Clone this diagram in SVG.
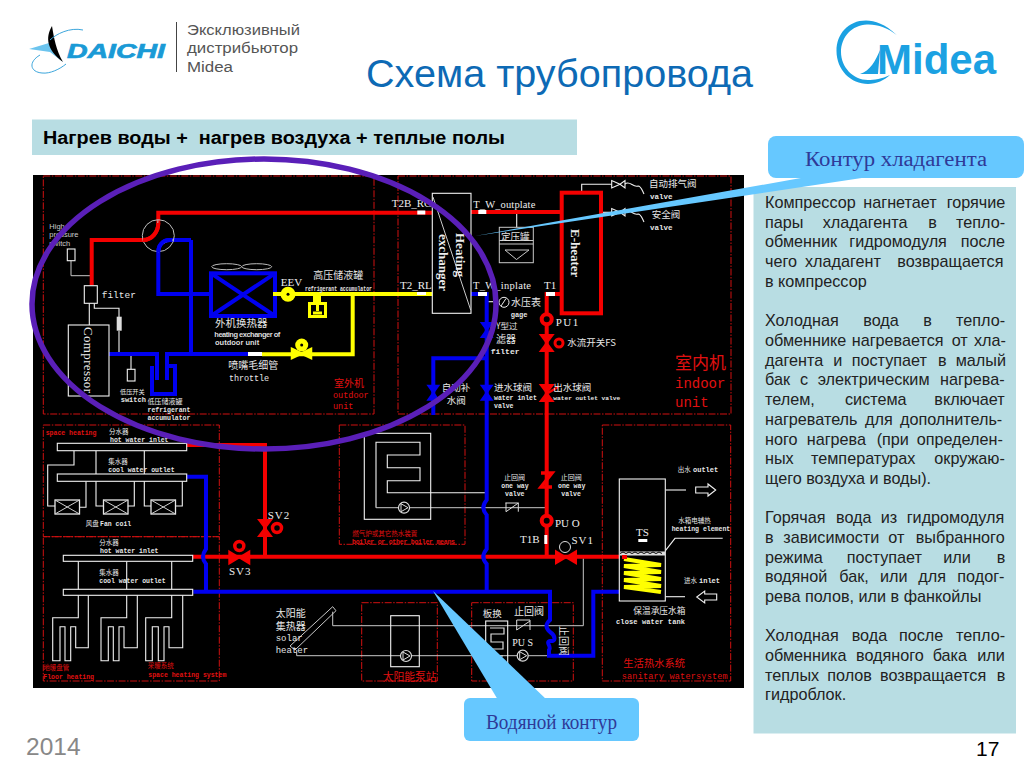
<svg xmlns="http://www.w3.org/2000/svg" width="1024" height="768" viewBox="0 0 1024 768">
<style>
text{font-family:"Liberation Sans",sans-serif}
.cn{font-family:"Noto Sans CJK SC",sans-serif;fill:#e6e6e6}
.m{font-family:"Liberation Mono",monospace;fill:#e6e6e6}
.mb{font-family:"Liberation Mono",monospace;fill:#e6e6e6;font-weight:bold}
.s{font-family:"Liberation Serif",serif;fill:#eee}
.rc{font-family:"Noto Sans CJK SC",sans-serif;fill:#e01010}
.rm{font-family:"Liberation Mono",monospace;fill:#e01010}
.box{fill:none;stroke:#d01010;stroke-width:1;stroke-dasharray:7 1.5 1.5 1.5}
.g{fill:none;stroke:#c8c8c8;stroke-width:1}
.w{fill:none;stroke:#f2f2f2;stroke-width:1.1}
.wf{fill:#000;stroke:#f2f2f2;stroke-width:1.1}
.hot{fill:none;stroke:#f50000;stroke-width:4}
.cold{fill:none;stroke:#0000f0;stroke-width:4}
.ref{fill:none;stroke:#ffff00;stroke-width:4}
.tick{fill:#fff}
.p text{font-size:16.2px;fill:#222}
.call{fill:#66c8ff}
.ct{font-family:"Liberation Serif",serif;font-size:20px;fill:#2f3a98}
</style>
<defs>
<polygon id="vh" points="-10,-6 10,6 10,-6 -10,6" fill="#f50000" stroke="#f50000" stroke-width="2"/>
<polygon id="vc" points="-5,-7 5,7 -5,7 5,-7" fill="#0000f0" stroke="#0000f0" stroke-width="2"/>
<polygon id="vr" points="-6,-8 6,8 -6,8 6,-8" fill="#f50000" stroke="#f50000" stroke-width="2"/>
<g id="pump"><circle r="5.5" fill="#000" stroke="#ddd" stroke-width="1.2"/><polygon points="-3,-4 4,0 -3,4" fill="none" stroke="#ddd" stroke-width="1"/></g>
<g id="fc"><rect x="0" y="0" width="24.5" height="14" fill="none" stroke="#e8e8e8" stroke-width="1.3"/><path d="M0,0L24.5,14M24.5,0L0,14" stroke="#d0d0d0" fill="none"/></g>
</defs>
<rect width="1024" height="768" fill="#fff"/>

<g id="logo-daichi">
<path d="M29,49L49,43L52,27C50,40 52,52 63,62L50,52Z" fill="#6cc4ee"/>
<path d="M52,26C45,38 47,50 63,62C56,50 54,38 52,26Z" fill="#000"/>
<path d="M83,30C70,27 56,34 50,40M40,55C28,62 30,72 42,73C50,74 60,69 66,64" fill="none" stroke="#3ca6dc" stroke-width="1"/>
<text x="67" y="58" font-size="21" font-weight="bold" font-style="italic" fill="#1a9ad6" stroke="#1a9ad6" stroke-width="0.7" textLength="98" lengthAdjust="spacingAndGlyphs">DAICHI</text>
<line x1="176.5" y1="22" x2="176.5" y2="72" stroke="#444" stroke-width="1"/>
<text x="187" y="35" font-size="15.5" fill="#555" textLength="113" lengthAdjust="spacingAndGlyphs">Эксклюзивный</text>
<text x="187" y="53" font-size="15.5" fill="#555" textLength="111" lengthAdjust="spacingAndGlyphs">дистрибьютор</text>
<text x="187" y="71.5" font-size="15.5" fill="#555" textLength="46" lengthAdjust="spacingAndGlyphs">Midea</text>
</g>
<g id="logo-midea">
<path d="M896.7,35C885,24 875,20.5 866,20.5C848,20.5 836.5,34 836.5,51C836.5,70 851,84 868,84C876,84 885,80 890,75C882,79 874,80 868,80C853,80 841,67 841,52C841,37 852,25 867,24.5C877,24 888,28 896.7,35Z" fill="#1ba1e2"/>
<path d="M860,74C870,71 876,60 880,50L878,74Z" fill="#1ba1e2"/>
<text x="877" y="74" font-size="43" font-weight="bold" fill="#1ba1e2" textLength="119" lengthAdjust="spacingAndGlyphs">Midea</text>
</g>
<text id="title" x="366" y="87" font-size="38" fill="#0d6ab5" textLength="387" lengthAdjust="spacingAndGlyphs">Схема трубопровода</text>
<g id="subtitle">
<rect x="32" y="119.5" width="545" height="35.5" fill="#b8dde3"/>
<text x="43" y="144" font-size="18" font-weight="bold" fill="#000" style="white-space:pre" textLength="462" lengthAdjust="spacingAndGlyphs">Нагрев воды +  нагрев воздуха + теплые полы</text>
</g>

<rect id="schema-bg" x="33" y="175" width="711" height="513" fill="#000"/>

<g id="zones">
<rect class="box" x="43.3" y="176" width="330.7" height="238"/>
<rect class="box" x="398" y="176" width="333" height="238"/>
<rect class="box" x="43.3" y="425" width="176" height="111.7"/>
<rect class="box" x="43.3" y="536.7" width="176" height="144.3"/>
<rect class="box" x="339.3" y="425" width="125.7" height="119.3"/>
<rect class="box" x="361.7" y="602.7" width="75.6" height="78.3"/>
<rect class="box" x="471.7" y="602.7" width="101.6" height="78.3"/>
<rect class="box" x="602.3" y="425" width="128.4" height="256"/>
</g>

<g id="connectors">
<polyline class="g" points="71,260.7 71,275.7 91.7,275.7"/>
<polyline class="w" points="89.3,303 89.3,325"/>
<polyline class="w" points="94.3,303.3 94.3,308.3 119,308.3 119,317"/>
<polyline class="w" points="119,331 119,354"/>
<polyline class="w" points="131,354 131,369.3"/>
<polyline class="w" points="516.7,213 516.7,227.3"/>
<polyline class="w" points="581.7,192.7 581.7,184.3 611.7,184.3"/>
<polyline class="w" points="601,212.3 611.7,212.3"/>
<path class="w" d="M625,184C630,180 633,188 638,186C641,186 642,190 644,194M625,212C630,208 633,216 638,214C641,214 642,218 644,222"/>
<polyline class="w" points="486,301.7 493,301.7"/>
<polyline class="w" points="74,450.7 74,465 47.7,465 47.7,506 55,506"/>
<polyline class="w" points="86,481.3 86,507.3 79.5,507.3"/>
<polyline class="w" points="96,450.7 96,506 103.3,506"/>
<polyline class="w" points="134.3,481.3 134.3,506 127.8,506"/>
<polyline class="w" points="144.3,450.7 144.3,506 151,506"/>
<polyline class="w" points="182.3,481.3 182.3,506 175.5,506"/>
<polyline class="w" points="78.3,561.3 78.3,617.7 52.7,617.7 52.7,660.7 60,660.7 60,626.7 65,626.7 65,660.7 70.7,660.7 70.7,626.7 75.7,626.7 75.7,647.7 88.3,647.7 88.3,595.3"/>
<polyline class="w" points="126.7,561.3 126.7,617.7 101,617.7 101,660.7 108.3,660.7 108.3,626.7 113.3,626.7 113.3,660.7 119,660.7 119,626.7 124,626.7 124,647.7 137.3,647.7 137.3,595.3"/>
<polyline class="w" points="171.7,561.3 171.7,617.7 145.7,617.7 145.7,660.7 152.3,660.7 152.3,626.7 158.3,626.7 158.3,660.7 164,660.7 164,626.7 169,626.7 169,647.7 182.7,647.7 182.7,595.3"/>
<polyline class="w" points="376,507.7 376,442.3 420,442.3 420,455 387.3,455 387.3,467.7 420,467.7 420,480.7 387.3,480.7 387.3,492.7 486,492.7"/>
<polyline class="g" points="376,507.7 546.7,507.7"/>
<polyline class="g" points="332.7,611.7 332.7,625.7 583.3,625.7 583.3,558.3"/>
<polyline class="g" points="296.7,650 296.7,655.7 550,655.7"/>
<polyline class="w" points="665.3,490 686,490"/>
<polyline class="w" points="665.3,596.7 685,596.7"/>
<polyline class="w" points="663.3,553.3 675,538.3 722.7,538.3"/>
<path class="hot" d="M91.7,285V240H143C152,240 158.3,232 158.3,223V212.7H432"/>
<path class="hot" d="M471,212H561.7"/>
<path class="hot" d="M561.7,294H546.7V556.7"/>
<path class="hot" d="M193,556.7H627"/>
<path class="hot" d="M186.7,445H265V556.7"/>
<path class="cold" d="M191,240H170C162,240 158.3,246 158.3,252V294H211"/>
<path class="cold" d="M191,240V354"/>
<path class="cold" d="M108.3,354H157V380M167,380V354H250"/>
<path class="cold" d="M152,366V394H175V366H168"/>
<rect class="cold" x="211" y="273.3" width="64" height="42.7"/>
<path class="cold" d="M211,273.3L275,316M275,273.3L211,316" stroke-width="3"/>
<path class="ref" d="M273,294H435"/>
<path class="ref" d="M352.7,294V354.3H262"/>
<path class="cold" d="M470.7,294H486.7V500Q480,507.7 486.7,515V549Q480,557 486.7,564V591.7"/>
<path class="cold" d="M486.7,358.3H433.3V415"/>
<path class="cold" d="M186.7,476.7H206V549Q200,557 206,564V591.7"/>
<path class="cold" d="M193.3,591.7H550V620Q543,626 550,632C556,636 556,642 550,641C545,642 552,647 549,650V655.7H593.3V591.7H650"/>
</g>

<g id="four-way">
<circle cx="158.3" cy="235.7" r="16" fill="none" stroke="#bdbdbd" stroke-width="1"/>
<path d="M144,240C150,240 158,232 158,220M173,240C167,240 158,246 158,252" fill="none" stroke="#bdbdbd" stroke-width="1"/>
<path d="M143,240C152,240 158.3,232 158.3,223" fill="none" stroke="#f50000" stroke-width="4"/>
<path d="M172,240H170C162,240 158.3,246 158.3,252" fill="none" stroke="#0000f0" stroke-width="4"/>
</g>
<g id="high-pressure-switch">
<rect class="w" x="67.3" y="249" width="7.7" height="11.7"/>
<text x="49.3" y="228.5" font-size="7.5" fill="#ccc">High</text><text x="49.3" y="237" font-size="7.5" fill="#ccc">pressure</text><text x="49.3" y="245.5" font-size="7.5" fill="#ccc">switch</text>
</g>
<g id="filter-out"><rect class="wf" x="84.3" y="285.7" width="13" height="17.6"/><rect x="116.7" y="316.7" width="5" height="14" fill="#ddd"/><text class="m" x="101.7" y="298.3" font-size="9.5">filter</text></g>
<g id="compressor"><rect class="wf" x="68.3" y="325" width="40.7" height="71" fill="none"/><text class="s" transform="translate(84,327) rotate(90)" font-size="13" textLength="66">Compressor</text></g>
<g id="low-switch"><rect class="wf" x="127.3" y="369.3" width="7.7" height="11.7"/><text class="cn" x="120" y="393.5" font-size="6.2">低压开关</text><text class="mb" x="120.7" y="401.7" font-size="7">switch</text></g>
<g id="low-acc"><text class="cn" x="147.5" y="403.5" font-size="7">低压储液罐</text><text class="mb" x="147.5" y="412" font-size="6.5">refrigerant</text><text class="mb" x="147.5" y="420" font-size="6.5">accumulator</text></g>
<g id="outdoor-exchanger">
<ellipse cx="226.7" cy="266.7" rx="15" ry="3" fill="none" stroke="#bbb"/><ellipse cx="256.7" cy="266.7" rx="15" ry="3" fill="none" stroke="#bbb"/>
<text class="cn" x="215" y="326.7" font-size="10.5">外机换热器</text>
<text x="214.3" y="336.7" font-size="7.5" fill="#ddd" textLength="66" font-weight="bold">heating exchanger of</text>
<text x="215" y="345" font-size="7.5" fill="#ddd" font-weight="bold">outdoor unit</text>
</g>
<g id="eev"><circle cx="288" cy="294.3" r="7.5" fill="#ffff00"/><circle cx="288" cy="294.3" r="1.5" fill="#000"/><text class="s" x="280.7" y="285.5" font-size="11">EEV</text></g>
<g id="hp-acc">
<path d="M308,302H313V296H321V302H327V318H308Z" fill="#ffff00"/><rect x="311" y="305" width="13" height="10" fill="#000"/><path d="M317.5,302V311M313,313H322" stroke="#ffff00" stroke-width="3" fill="none"/>
<text class="cn" x="313.3" y="279" font-size="10">高压储液罐</text>
<text class="mb" x="305" y="290.7" font-size="7" textLength="67" lengthAdjust="spacingAndGlyphs">refrigerant accumulator</text>
</g>
<g id="throttle">
<rect class="tick" x="248" y="352" width="14" height="4"/>
<circle cx="301.7" cy="345" r="6.5" fill="#ffff00"/><circle cx="301.7" cy="345" r="1.5" fill="#000"/><polygon points="292,349 311,358 311,349 292,358" fill="#ffff00" stroke="#ffff00" stroke-width="2.5"/>
<text class="cn" x="228.3" y="369" font-size="10">喷嘴毛细管</text>
<text class="m" x="229" y="380.5" font-size="8.5" textLength="40">throttle</text>
</g>
<g id="outdoor-label"><text class="rc" x="334" y="386.7" font-size="10">室外机</text><text class="rm" x="333" y="397.5" font-size="8.5">outdoor</text><text class="rm" x="333" y="409" font-size="8.5">unit</text></g>

<g id="heat-exchanger">
<rect class="wf" x="432.3" y="193.3" width="38.7" height="120"/>
<path class="g" d="M433,197L470.7,310"/>
<text class="s" transform="translate(456,233) rotate(90)" font-size="13" font-weight="bold">Heating</text>
<text class="s" transform="translate(439,234) rotate(90)" font-size="13" font-weight="bold">exchanger</text>
<rect class="tick" x="417.3" y="210.5" width="8" height="4"/><rect class="tick" x="478.3" y="210" width="8" height="4"/><rect class="tick" x="417" y="292" width="9" height="3"/><rect class="tick" x="478" y="292" width="9" height="4"/>
<text class="s" x="391.7" y="206.7" font-size="11">T2B_RG</text><text class="s" x="473.3" y="207.7" font-size="10.5" textLength="62">T_W_outplate</text>
<text class="s" x="400" y="289" font-size="11">T2_RL</text><text class="s" x="473" y="289" font-size="10.5" textLength="58">T_W_inplate</text>
</g>
<g id="gage-tank">
<rect class="g" x="499.3" y="227.3" width="34" height="35.4" stroke-width="1.5"/>
<path class="g" d="M499.3,240.5H533.3M499.3,244H533.3M505,250L516.5,259.5L529,250H505"/>
<text class="cn" x="501" y="239.5" font-size="9.5">定压罐</text>
</g>
<g id="e-heater">
<rect x="561.7" y="192.7" width="39.3" height="120.6" fill="#000" stroke="#f50000" stroke-width="4"/>
<text class="s" transform="translate(571,229) rotate(90)" font-size="13" font-weight="bold">E-heater</text>
<rect class="tick" x="546" y="292" width="9" height="4"/>
<text class="s" x="544" y="289" font-size="11">T1</text>
</g>
<g id="air-valves">
<path class="w" d="M611.7,180.5V188L620,184.3L625,180.5V188L620,184.3ZM611.7,208.5V216L620,212.3L625,208.5V216L620,212.3Z"/>
<text class="cn" x="649" y="187.3" font-size="9.5">自动排气阀</text><text class="mb" x="650" y="199" font-size="7.5">valve</text>
<text class="cn" x="651.7" y="218" font-size="9.5">安全阀</text><text class="mb" x="650" y="230" font-size="7.5">valve</text>
</g>
<g id="gage"><circle cx="504" cy="302.3" r="5" fill="#000" stroke="#eee"/><path d="M506,298.5L501,306" stroke="#eee"/><text class="cn" x="511" y="306.2" font-size="10">水压表</text><text class="mb" x="510.7" y="316.5" font-size="7">gage</text></g>
<g id="y-filter"><use href="#vc" x="486.7" y="330"/><text class="cn" x="496" y="328.5" font-size="8.5">Y型过</text><text class="cn" x="496" y="342.5" font-size="10">滤器</text><text class="mb" x="490.7" y="353.5" font-size="8">filter</text></g>
<g id="pu1"><circle cx="546.7" cy="319.3" r="5" fill="#000" stroke="#f50000" stroke-width="4"/><text class="s" x="555.7" y="326" font-size="11" letter-spacing="1.5">PU1</text></g>
<g id="flow-switch"><use href="#vr" x="546.7" y="343"/><circle cx="559" cy="343" r="4" fill="#000" stroke="#f50000" stroke-width="3"/><text class="cn" x="567.3" y="346" font-size="9.5">水流开关FS</text></g>
<g id="valves-in">
<use href="#vc" x="433.3" y="392.7"/><use href="#vc" x="486.7" y="392.7"/><use href="#vr" x="546.7" y="393"/><path d="M548,393L558,387" stroke="#f50000" stroke-width="2.5"/>
<text class="cn" x="441.7" y="390.7" font-size="9.5">自动补</text><text class="cn" x="446.7" y="404" font-size="9.5">水阀</text>
<text class="cn" x="494" y="390.7" font-size="9.5">进水球阀</text><text class="mb" x="494" y="400" font-size="6.5">water inlet</text><text class="mb" x="494" y="408" font-size="6.5">valve</text>
<text class="cn" x="553.3" y="390.7" font-size="9.5">出水球阀</text><text class="mb" x="553.3" y="400" font-size="6.2">water outlet valve</text>
</g>
<g id="indoor-label"><text class="rc" x="675" y="369" font-size="17">室内机</text><text class="rm" x="675" y="387.7" font-size="14">indoor</text><text class="rm" x="675" y="407" font-size="14">unit</text></g>

<g id="fan-coil">
<rect class="wf" x="57.3" y="443.3" width="129.4" height="7.4"/><rect class="wf" x="57.3" y="474" width="129.4" height="7.3"/>
<use href="#fc" x="55" y="500"/><use href="#fc" x="103.5" y="500"/><use href="#fc" x="151" y="500"/>
<text class="rm" x="45.7" y="435" font-size="6.5" font-weight="bold">space heating</text>
<text class="cn" x="109" y="433.8" font-size="6.5">分水器</text><text class="mb" x="110" y="441.7" font-size="6.5">hot water inlet</text>
<text class="cn" x="108.3" y="463.8" font-size="6.5">集水器</text><text class="mb" x="108.3" y="471.7" font-size="6.5">cool water outlet</text>
<text class="cn" x="85.7" y="525.7" font-size="6.5">风盘</text><text class="mb" x="100" y="525.7" font-size="6.5">Fan coil</text>
</g>
<g id="floor-heating">
<rect class="wf" x="63.3" y="555.3" width="129.4" height="6"/><rect class="wf" x="63.3" y="589.3" width="129.4" height="6"/>
<text class="cn" x="99.3" y="544.5" font-size="6.5">分水器</text><text class="mb" x="100" y="552.7" font-size="6.5">hot water inlet</text>
<text class="cn" x="99.3" y="575.2" font-size="6.5">集水器</text><text class="mb" x="99.3" y="583.3" font-size="6.5">cool water outlet</text>
<text class="rc" x="43.3" y="670.3" font-size="6.5">地暖盘管</text><text class="rm" x="43.3" y="679.3" font-size="6.5" font-weight="bold">Floor heating</text>
<text class="rc" x="147.7" y="668" font-size="6.5">采暖系统</text><text class="rm" x="148.3" y="677.3" font-size="6.5" font-weight="bold">space heating system</text>
</g>
<g id="sv2"><use href="#vr" x="265" y="528"/><circle cx="277" cy="528" r="4.5" fill="#000" stroke="#f50000" stroke-width="3.5"/><text class="s" x="267.7" y="518.7" font-size="11" letter-spacing="1">SV2</text></g>
<g id="sv3"><use href="#vh" x="239.3" y="557.5"/><circle cx="239.3" cy="546" r="4.5" fill="#000" stroke="#f50000" stroke-width="3.5"/><text class="s" x="229" y="575" font-size="11" letter-spacing="1">SV3</text></g>
<g id="boiler">
<rect class="w" x="364.3" y="433.3" width="66.4" height="86"/>
<use href="#pump" x="404" y="507.7"/>
<text class="rc" x="352.3" y="535.5" font-size="6.5">燃气炉或其它热水装置</text>
<text class="rm" x="352" y="544" font-size="6.5" font-weight="bold" textLength="103">boiler or other boiler means</text>
</g>
<g id="check-valve-1">
<path d="M506,502.7V511.7L518.3,503V511.7" fill="none" stroke="#ddd"/><rect x="505.5" y="502.5" width="13" height="1" fill="#ddd"/>
<text class="cn" x="504" y="480.3" font-size="7">止回阀</text><text class="mb" x="501.3" y="488.3" font-size="6.5">one way</text><text class="mb" x="505" y="496" font-size="6.5">valve</text>
</g>
<g id="check-valve-2">
<path d="M541,473H552L541,487H552" fill="none" stroke="#f50000" stroke-width="3.5"/>
<text class="cn" x="560.7" y="480.3" font-size="7">止回阀</text><text class="mb" x="558" y="488.3" font-size="6.5">one way</text><text class="mb" x="561.3" y="496" font-size="6.5">valve</text>
</g>
<g id="pu-o"><circle cx="546.7" cy="520.7" r="5" fill="#000" stroke="#f50000" stroke-width="4"/><text class="s" x="555" y="526.7" font-size="11">PU O</text></g>
<g id="t1b"><rect class="tick" x="544.3" y="535" width="3" height="9"/><text class="s" x="520" y="542.7" font-size="11">T1B</text></g>
<g id="sv1"><use href="#vh" x="566" y="557.3"/><circle cx="565" cy="547" r="5.5" fill="#000" stroke="#ddd"/><text class="s" x="571.5" y="544" font-size="11" letter-spacing="1">SV1</text></g>
<g id="solar">
<polygon class="g" points="290,646 332.7,606.7 336,610.7 295,650"/>
<text class="cn" x="275.7" y="616.7" font-size="10">太阳能</text><text class="cn" x="275.7" y="630" font-size="10">集热器</text>
<text class="m" x="275.7" y="641" font-size="9">solar</text><text class="m" x="275.7" y="652.7" font-size="9">heater</text>
</g>
<g id="solar-station">
<rect class="w" x="390.7" y="615.7" width="28.6" height="51"/>
<use href="#pump" x="406" y="656"/>
<text class="rc" x="382.7" y="680.7" font-size="10.8">太阳能泵站</text>
</g>
<g id="plate">
<rect class="w" x="485.7" y="621" width="22" height="42"/>
<path d="M490,628H504V634H491V642H503V649H491V656H503" fill="none" stroke="#ddd" stroke-width="1.2"/>
<text class="cn" x="482.7" y="616.7" font-size="9.5">板换</text>
<text class="cn" x="514" y="615" font-size="10">止回阀</text>
<path d="M516.7,620H530V630M516.7,620V630L530,621" fill="none" stroke="#ddd"/>
<text class="s" x="512.3" y="645.7" font-size="10">PU S</text>
<use href="#pump" x="522.7" y="655.7"/>
<text class="cn" transform="translate(560,626) rotate(90)" font-size="10">止回阀</text>
</g>
<g id="tank">
<rect class="wf" x="619.3" y="479" width="46" height="122" fill="none"/>
<rect x="620" y="551.5" width="45" height="4" fill="#ddd"/>
<path d="M620,553.5l3,-1.5l3,1.5l3,-1.5l3,1.5l3,-1.5l3,1.5l3,-1.5l3,1.5l3,-1.5l3,1.5l3,-1.5l3,1.5l3,-1.5l3,1.5" fill="none" stroke="#000"/>
<path d="M624,559L661,565L624,566L661,572L624,573L661,579L624,580L661,586L624,587L661,592" fill="none" stroke="#ffff00" stroke-width="4"/>
<path d="M622,557H627" stroke="#f50000" stroke-width="4"/>
<text class="s" x="636" y="536" font-size="11">TS</text><rect class="tick" x="638.3" y="539" width="9" height="3"/>
<path class="w" d="M695.7,487H708V484L715.7,490L708,496V493H695.7Z"/>
<path class="w" d="M716.7,594H704.7V591L696.7,597L704.7,603V600H716.7Z"/>
<text class="cn" x="677.7" y="471.7" font-size="6.5">出水</text><text class="mb" x="693" y="471.7" font-size="7">outlet</text>
<text class="cn" x="678.3" y="522.8" font-size="6.5">水箱电辅热</text><text class="mb" x="671.7" y="531" font-size="6.5">heating element</text>
<text class="cn" x="684" y="583.3" font-size="6.5">进水</text><text class="mb" x="699" y="583.3" font-size="7">inlet</text>
<text class="cn" x="633.3" y="614.3" font-size="8.7">保温承压水箱</text><text class="mb" x="616" y="624" font-size="7" textLength="69">close water tank</text>
<text class="rc" x="623.3" y="667.3" font-size="10.3">生活热水系统</text>
<text class="rm" x="621.7" y="679" font-size="8.5" textLength="106">sanitary watersystem</text>
</g>

<ellipse id="refrigerant-ring" cx="264" cy="304" rx="232" ry="145" fill="none" stroke="#5a1fb8" stroke-width="5.5"/>

<g id="panel" class="p">
<rect x="753.5" y="187" width="262.5" height="546.5" fill="#b8dde3"/>
<text y="208"><tspan x="765">Компрессор</tspan><tspan x="863.3">нагнетает</tspan><tspan x="946.7">горячие</tspan></text>
<text y="227.7"><tspan x="765">пары</tspan><tspan x="822.7">хладагента</tspan><tspan x="928.3">в</tspan><tspan x="956">тепло-</tspan></text>
<text y="247.4"><tspan x="765">обменник</tspan><tspan x="849.3">гидромодуля</tspan><tspan x="960.7">после</tspan></text>
<text y="267"><tspan x="765">чего</tspan><tspan x="805">хладагент</tspan><tspan x="897.3">возвращается</tspan></text>
<text y="286.7" x="765">в компрессор</text>
<text y="326.4"><tspan x="765">Холодная</tspan><tspan x="863.3">вода</tspan><tspan x="923.3">в</tspan><tspan x="956">тепло-</tspan></text>
<text y="346"><tspan x="765">обменнике</tspan><tspan x="851.7">нагревается</tspan><tspan x="951.7">от</tspan><tspan x="974">хла-</tspan></text>
<text y="365.8"><tspan x="765">дагента</tspan><tspan x="833.3">и</tspan><tspan x="851.7">поступает</tspan><tspan x="938">в</tspan><tspan x="955.7">малый</tspan></text>
<text y="385.4"><tspan x="765">бак</tspan><tspan x="800">с</tspan><tspan x="817.7">электрическим</tspan><tspan x="940">нагрева-</tspan></text>
<text y="405.1"><tspan x="765">телем,</tspan><tspan x="845">система</tspan><tspan x="934.3">включает</tspan></text>
<text y="424.8"><tspan x="765">нагреватель</tspan><tspan x="865">для</tspan><tspan x="900">дополнитель-</tspan></text>
<text y="444.5"><tspan x="765">ного</tspan><tspan x="806.7">нагрева</tspan><tspan x="876.7">(при</tspan><tspan x="916.7">определен-</tspan></text>
<text y="464.2"><tspan x="765">ных</tspan><tspan x="811">температурах</tspan><tspan x="934.3">окружаю-</tspan></text>
<text y="483.8" x="765">щего воздуха и воды).</text>
<text y="523.2"><tspan x="765">Горячая</tspan><tspan x="836">вода</tspan><tspan x="880.7">из</tspan><tspan x="906.7">гидромодуля</tspan></text>
<text y="542.9"><tspan x="765">в</tspan><tspan x="783.3">зависимости</tspan><tspan x="888.3">от</tspan><tspan x="915.7">выбранного</tspan></text>
<text y="562.6"><tspan x="765">режима</tspan><tspan x="846.7">поступает</tspan><tspan x="943.3">или</tspan><tspan x="996.7">в</tspan></text>
<text y="582.2"><tspan x="765">водяной</tspan><tspan x="839.3">бак,</tspan><tspan x="880">или</tspan><tspan x="918.3">для</tspan><tspan x="957.3">подог-</tspan></text>
<text y="601.9" x="765">рева полов, или в фанкойлы</text>
<text y="641.3"><tspan x="765">Холодная</tspan><tspan x="851.7">вода</tspan><tspan x="899">после</tspan><tspan x="956">тепло-</tspan></text>
<text y="661"><tspan x="765">обменника</tspan><tspan x="856">водяного</tspan><tspan x="932.7">бака</tspan><tspan x="977.3">или</tspan></text>
<text y="680.6"><tspan x="765">теплых</tspan><tspan x="827.3">полов</tspan><tspan x="880">возвращается</tspan><tspan x="996.7">в</tspan></text>
<text y="700.3" x="765">гидроблок.</text>
</g>

<g id="callout-refrigerant">
<polygon class="call" points="812,176 875,176 475,236"/>
<rect class="call" x="768" y="136" width="256" height="42" rx="8"/>
<text class="ct" x="805" y="166" textLength="182" lengthAdjust="spacingAndGlyphs">Контур хладагента</text>
</g>
<g id="callout-water">
<polygon class="call" points="433,591 498,700 547,700"/>
<rect class="call" x="464" y="698" width="175" height="43" rx="6"/>
<text class="ct" x="486" y="729" textLength="131" lengthAdjust="spacingAndGlyphs">Водяной контур</text>
</g>

<text id="year" x="26" y="755" font-size="24.5" fill="#888">2014</text>
<text id="page" x="976" y="756" font-size="21" fill="#000">17</text>
</svg>
